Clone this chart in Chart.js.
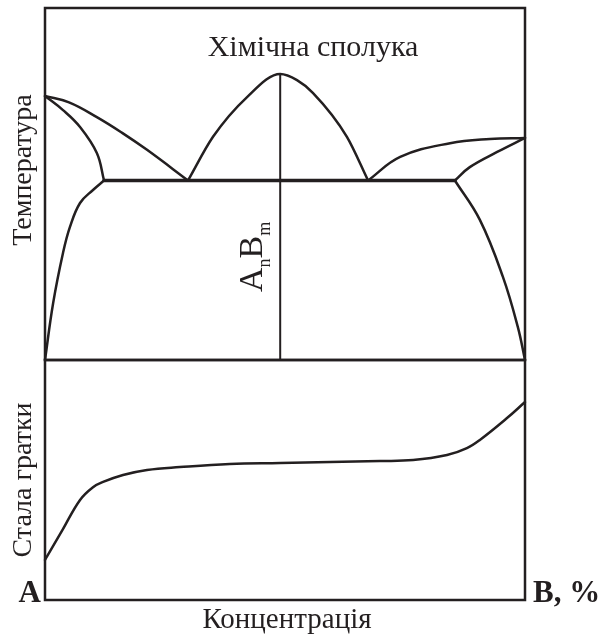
<!DOCTYPE html>
<html>
<head>
<meta charset="utf-8">
<script src="https://cdn.jsdelivr.net/npm/chart.js@4.4.1/dist/chart.umd.min.js"></script>
<style>
html,body{margin:0;padding:0;background:#fff;}
#wrap{width:607px;height:635px;position:relative;}
</style>
</head>
<body>
<div id="wrap"><canvas id="c" width="607" height="635"></canvas></div>
<script>
// Concentration of B (x, %) vs temperature (top) and lattice constant (bottom), arbitrary units
const leftLiquidus  = [[0,75],[5,73.2],[10.8,69],[16,64.6],[21.25,59.7],[29.8,51]];
const leftSolidus   = [[0,75],[3.75,71],[7.3,66.2],[10.8,58.8],[12.3,51]];
const compoundDome  = [[29.8,51],[35,63.4],[42.1,74.7],[49,81.25],[52.5,79.5],[55.8,75.9],[62.9,63.4],[67.3,51]];
const rightLiquidus = [[67.3,51],[74,57.7],[84.4,61.6],[92.7,62.8],[100,63.1]];
const rightSolidus  = [[85.4,51],[88.5,54.8],[94.2,59.1],[100,63.1]];
const leftSolvus    = [[0,0],[1.7,16.2],[3.75,30.4],[5.2,37.8],[7.3,44.6],[10,48.3],[12.3,51]];
const rightSolvus   = [[85.4,51],[90.6,39.8],[95.4,23.6],[98.5,9.4],[100,0]];
const eutecticLine  = [[12.3,51],[85.4,51]];
const compoundLine  = [[49,0],[49,81.25]];
const latticeConst  = [[0,16.7],[3.65,29.2],[7.3,41.7],[10,47],[12.1,49.2],[16.25,52.1],[21.25,54.2],[28.1,55.4],[38.5,56.7],[49,57.1],[69.8,57.9],[76.7,58.3],[83.75,60.4],[87.9,63.3],[90.6,66.7],[96.25,75.8],[100,82.5]];

const labels = {
  title: 'Хімічна сполука',
  temp: 'Температура',
  lattice: 'Стала гратки',
  conc: 'Концентрація',
  a: 'A',
  b: 'B, %'
};

const INK = '#231f20';
const toPts = arr => arr.map(p => ({x: p[0], y: p[1]}));
function ds(arr, axis, width, mode) {
  return {
    data: toPts(arr), yAxisID: axis, showLine: true, pointRadius: 0,
    borderColor: INK, borderWidth: width, fill: false, clip: false,
    cubicInterpolationMode: mode === 'mono' ? 'monotone' : 'default',
    tension: mode === 'smooth' ? 0.4 : 0,
    borderCapStyle: 'round', borderJoinStyle: 'round'
  };
}

const framePlugin = {
  id: 'frames',
  afterDatasetsDraw(chart) {
    const ctx = chart.ctx;
    const xs = chart.scales.x, y = chart.scales.yTemp, y2 = chart.scales.yLat;
    const L = xs.left, R = xs.right;
    ctx.save();
    ctx.strokeStyle = INK;
    ctx.lineWidth = 2.5;
    ctx.strokeRect(L, y.top, R - L, y.bottom - y.top);
    ctx.strokeRect(L, y2.top, R - L, y2.bottom - y2.top);
    ctx.fillStyle = INK;
    const serif = '"Liberation Serif", "Times New Roman", serif';
    ctx.font = '30px ' + serif;
    ctx.textAlign = 'center'; ctx.textBaseline = 'alphabetic';
    ctx.fillText(labels.title, 313, 56);
    ctx.font = '29px ' + serif;
    ctx.fillText(labels.conc, 287, 628);
    ctx.font = '28px ' + serif;
    ctx.save(); ctx.translate(31, 170); ctx.rotate(-Math.PI/2);
    ctx.fillText(labels.temp, 0, 0); ctx.restore();
    ctx.save(); ctx.translate(31, 480); ctx.rotate(-Math.PI/2);
    ctx.fillText(labels.lattice, 0, 0); ctx.restore();
    ctx.font = 'bold 31px ' + serif;
    ctx.textAlign = 'right';
    ctx.fillText(labels.a, 41, 602);
    ctx.textAlign = 'left';
    ctx.fillText(labels.b, 533, 602);
    ctx.save(); ctx.translate(262, 292); ctx.rotate(-Math.PI/2);
    ctx.textAlign = 'left';
    let cx = 0;
    const parts = [['A',34,0],['n',18,8],['B',34,0],['m',18,8]];
    parts.forEach(p => {
      ctx.font = p[1] + 'px ' + serif;
      ctx.fillText(p[0], cx, p[2]);
      cx += ctx.measureText(p[0]).width;
    });
    ctx.restore();
    ctx.restore();
  }
};

new Chart(document.getElementById('c'), {
  type: 'scatter',
  data: {
    datasets: [
      ds(leftLiquidus, 'yTemp', 2.5, 'smooth'),
      ds(leftSolidus, 'yTemp', 2.5, 'smooth'),
      ds(compoundDome, 'yTemp', 2.5, 'mono'),
      ds(rightLiquidus, 'yTemp', 2.5, 'smooth'),
      ds(rightSolidus, 'yTemp', 2.5, 'smooth'),
      ds(leftSolvus, 'yTemp', 2.5, 'smooth'),
      ds(rightSolvus, 'yTemp', 2.5, 'smooth'),
      ds(eutecticLine, 'yTemp', 3.5, 'line'),
      ds(compoundLine, 'yTemp', 2, 'line'),
      ds(latticeConst, 'yLat', 2.5, 'smooth')
    ]
  },
  options: {
    responsive: false,
    animation: false,
    events: [],
    layout: { padding: { left: 45, right: 82, top: 8, bottom: 35 } },
    plugins: { legend: { display: false }, tooltip: { enabled: false }, title: { display: false } },
    scales: {
      x: { type: 'linear', min: 0, max: 100, display: false },
      yLat: { type: 'linear', min: 0, max: 100, display: false, position: 'left', stack: 'panels', stackWeight: 240 },
      yTemp: { type: 'linear', min: 0, max: 100, display: false, position: 'left', stack: 'panels', stackWeight: 352 }
    }
  },
  plugins: [framePlugin]
});
</script>
</body>
</html>
